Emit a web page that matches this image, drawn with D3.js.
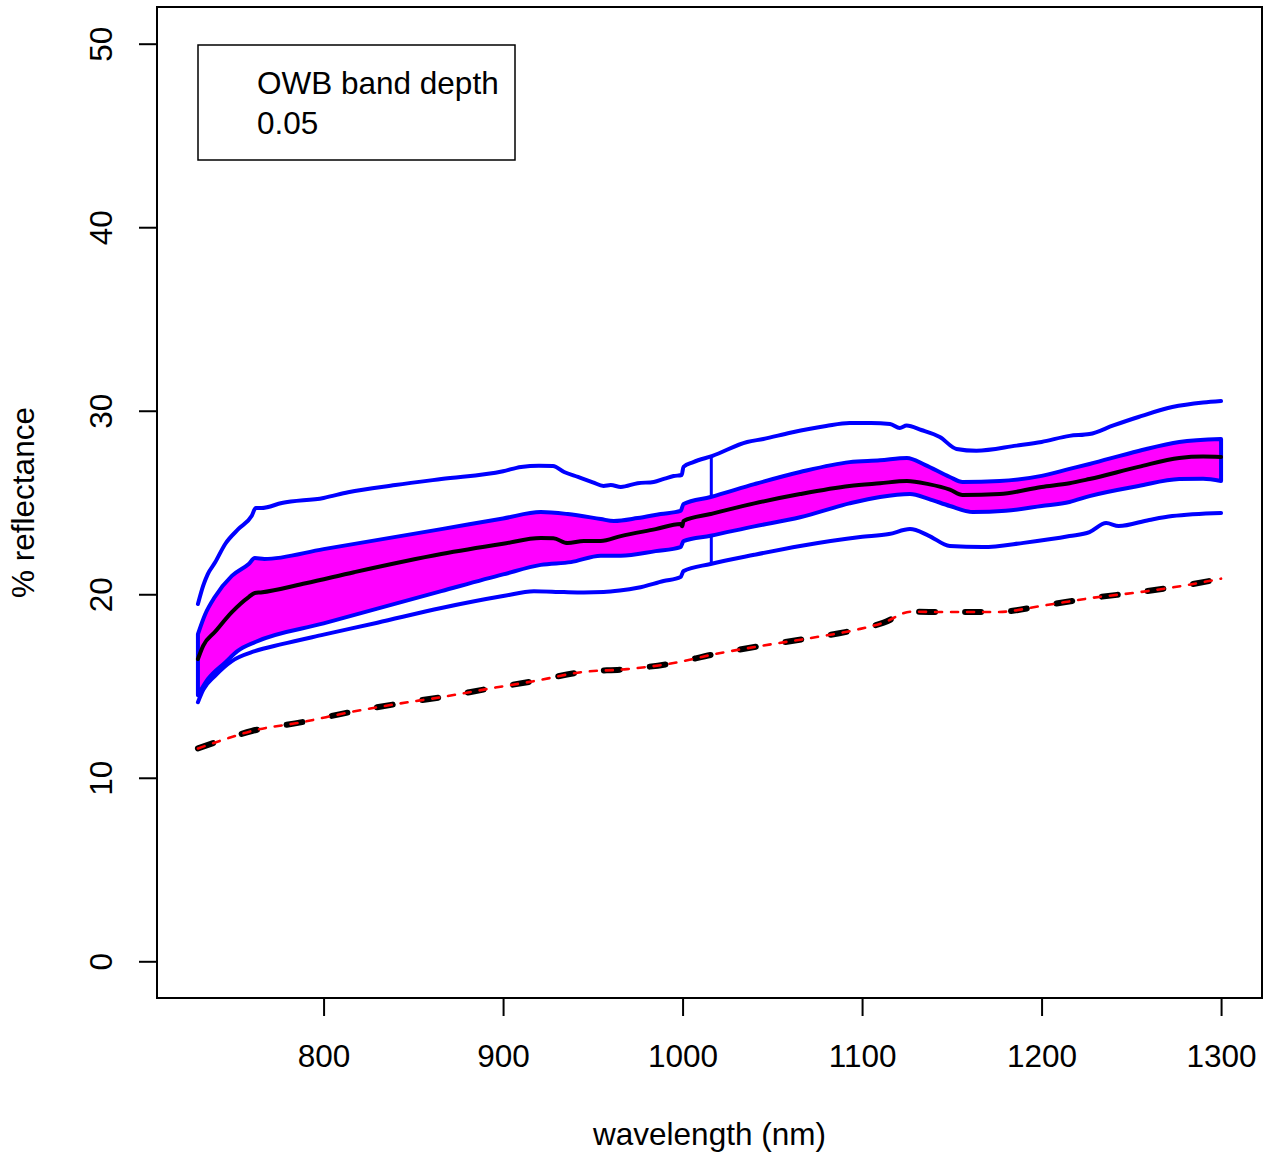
<!DOCTYPE html>
<html>
<head>
<meta charset="utf-8">
<script src="https://cdn.jsdelivr.net/npm/d3@7/dist/d3.min.js"></script>
<style>
  html, body { margin: 0; padding: 0; background: #fff; }
  svg { display: block; }
  text { font-family: "Liberation Sans", Arial, sans-serif; fill: #000; }
</style>
</head>
<body>
<script>
// ---------- data (wavelength nm, % reflectance) ----------
const xTicks = [800, 900, 1000, 1100, 1200, 1300];
const yTicks = [0, 10, 20, 30, 40, 50];
const legendLines = ["OWB band depth", "0.05"];
const xLabel = "wavelength (nm)";
const yLabel = "% reflectance";

const outerUpper = [
  [730, 19.47], [732.9, 20.46], [735.5, 21.1], [739.6, 21.74], [745.2, 22.74], [752.6, 23.56],
  [760, 24.28], [762.2, 24.7], [765.5, 24.7], [776.7, 24.97], [800, 25.25], [813.7, 25.56],
  [840, 25.95], [865.6, 26.28], [900, 26.7], [910, 26.94], [920, 27.0], [927.8, 26.99],
  [934, 26.66], [941.7, 26.39], [950, 26.1], [956, 25.9], [960, 25.95], [965.6, 25.85],
  [975, 26.05], [983.9, 26.12], [990, 26.3], [995, 26.44], [999.5, 26.5], [1000.5, 26.94],
  [1006, 27.2], [1016.7, 27.54], [1036, 28.3], [1045, 28.46], [1060, 28.8], [1080, 29.17],
  [1093, 29.33], [1105, 29.33], [1115.6, 29.28], [1121, 29.06], [1124.8, 29.19], [1133, 28.95],
  [1143.3, 28.57], [1152.6, 27.92], [1163.7, 27.82], [1186, 28.1], [1200, 28.3], [1215.6, 28.63],
  [1226.7, 28.73], [1240, 29.2], [1254, 29.66], [1272.8, 30.2], [1290, 30.45], [1300, 30.53]
];

const outerLower = [
  [730, 14.12], [733, 14.8], [739.4, 15.54], [748.9, 16.36], [761.7, 16.9], [776.7, 17.28],
  [800, 17.8], [830, 18.45], [865.6, 19.25], [900, 19.9], [917.2, 20.17], [933.9, 20.12],
  [945, 20.1], [956, 20.12], [965, 20.2], [975, 20.35], [989.4, 20.72], [998.9, 20.94],
  [1000.5, 21.26], [1015.6, 21.65], [1040, 22.15], [1065.5, 22.63], [1099, 23.12],
  [1115, 23.28], [1126.7, 23.55], [1137, 23.2], [1148.9, 22.63], [1167.2, 22.57],
  [1190, 22.8], [1215.6, 23.17], [1226.7, 23.39], [1236, 23.88], [1243, 23.72],
  [1260, 24.05], [1272.8, 24.26], [1300, 24.43]
];

const bandUpper = [
  [730, 17.83], [734, 18.9], [739.4, 19.85], [748.9, 21.0], [758.3, 21.65], [761.7, 21.97],
  [767, 21.92], [800, 22.46], [865.6, 23.55], [900, 24.13], [921, 24.48], [936, 24.37],
  [954.4, 24.1], [961.7, 23.99], [975, 24.15], [987.8, 24.37], [998.9, 24.54], [1000.5, 24.92],
  [1015.6, 25.3], [1040, 26.0], [1065.5, 26.66], [1093, 27.2], [1110, 27.3], [1125, 27.43],
  [1135, 27.05], [1148.9, 26.39], [1156, 26.12], [1176.7, 26.17], [1200, 26.45], [1215.6, 26.83],
  [1226.7, 27.1], [1254, 27.81], [1276.7, 28.3], [1300, 28.46]
];

const bandLower = [
  [730, 14.5], [735.6, 15.38], [745.4, 16.3], [752, 16.9], [762, 17.4], [800, 18.41],
  [865.6, 20.17], [900, 21.08], [921, 21.6], [937.8, 21.75], [954.4, 22.1], [965.6, 22.1],
  [985, 22.35], [998.9, 22.57], [1000.5, 22.9], [1015.6, 23.19], [1040, 23.7], [1065.5, 24.2],
  [1093, 24.95], [1110, 25.3], [1126.7, 25.46], [1137, 25.2], [1148.9, 24.81], [1161.7, 24.48],
  [1180, 24.55], [1200, 24.81], [1215.6, 25.03], [1226.7, 25.35], [1254, 25.9],
  [1276.7, 26.28], [1290, 26.3], [1300, 26.17]
];

const meanLine = [
  [730, 16.47], [732.9, 17.19], [739.4, 17.94], [748.9, 19.03], [758.3, 19.85], [761.7, 20.07],
  [765, 20.1], [790, 20.6], [817, 21.2], [865.6, 22.19], [900, 22.75], [921, 23.06],
  [928, 23.05], [936, 22.79], [945, 22.9], [954.4, 22.9], [965.6, 23.17], [985, 23.55],
  [998.9, 23.83], [999.8, 23.7], [1000.5, 23.99], [1015.6, 24.37], [1040, 24.95],
  [1065.5, 25.46], [1093, 25.9], [1110, 26.05], [1125, 26.17], [1137, 26.0], [1148.9, 25.7],
  [1156, 25.41], [1176.7, 25.46], [1200, 25.85], [1215.6, 26.05], [1226.7, 26.28],
  [1254, 26.94], [1276.7, 27.43], [1290, 27.5], [1300, 27.48]
];

const dashedLine = [
  [730, 11.6], [745, 12.1], [760, 12.55], [788, 13.03], [815, 13.58], [840, 14.01],
  [866, 14.4], [893, 14.87], [918, 15.28], [944, 15.76], [969, 15.92], [995, 16.25],
  [1018, 16.74], [1044, 17.19], [1071, 17.61], [1097, 18.07], [1112, 18.45], [1127, 19.05],
  [1148, 19.03], [1175, 19.03], [1202, 19.4], [1228, 19.8], [1255, 20.12], [1281, 20.5],
  [1300, 20.85]
];

const markerWl = 1016;
const markerRange = [21.65, 27.52];

// ---------- layout ----------
const W = 1263, H = 1153;
const plot = { left: 157, right: 1262, top: 7, bottom: 998 };
const FS = 31.5;

const svg = d3.select("body").append("svg").attr("width", W).attr("height", H);

const x = d3.scaleLinear().domain([707.2, 1322.8]).range([plot.left, plot.right]);
const y = d3.scaleLinear().domain([-2, 52]).range([plot.bottom, plot.top]);

const line = d3.line().x(d => x(d[0])).y(d => y(d[1])).curve(d3.curveMonotoneX);

// marker vertical line (drawn under polygon)
svg.append("line")
  .attr("x1", x(markerWl)).attr("x2", x(markerWl))
  .attr("y1", y(markerRange[0])).attr("y2", y(markerRange[1]))
  .attr("stroke", "#0000ff").attr("stroke-width", 3);

// outer lines
[outerUpper, outerLower].forEach(s => {
  svg.append("path").attr("d", line(s))
    .attr("fill", "none").attr("stroke", "#0000ff").attr("stroke-width", 4)
    .attr("stroke-linejoin", "round").attr("stroke-linecap", "round");
});

// band polygon
const polyD = line(bandUpper) + line(bandLower.slice().reverse()).replace(/^M/, "L") + "Z";
svg.append("path").attr("d", polyD)
  .attr("fill", "#ff00ff").attr("stroke", "#0000ff").attr("stroke-width", 4)
  .attr("stroke-linejoin", "round");

// mean
svg.append("path").attr("d", line(meanLine))
  .attr("fill", "none").attr("stroke", "#000").attr("stroke-width", 4)
  .attr("stroke-linejoin", "round").attr("stroke-linecap", "round");

// dashed black + red
svg.append("path").attr("d", line(dashedLine))
  .attr("fill", "none").attr("stroke", "#000").attr("stroke-width", 6)
  .attr("stroke-dasharray", "16 30").attr("stroke-linecap", "round");
svg.append("path").attr("d", line(dashedLine))
  .attr("fill", "none").attr("stroke", "#ff0000").attr("stroke-width", 2.6)
  .attr("stroke-dasharray", "7 9").attr("stroke-linecap", "round");

// frame
svg.append("rect")
  .attr("x", plot.left).attr("y", plot.top)
  .attr("width", plot.right - plot.left).attr("height", plot.bottom - plot.top)
  .attr("fill", "none").attr("stroke", "#000").attr("stroke-width", 2);

// x axis
const xAxis = d3.axisBottom(x).tickValues(xTicks).tickSize(18).tickPadding(29).tickFormat(d3.format("d"));
const gx = svg.append("g").attr("transform", `translate(0,${plot.bottom})`).call(xAxis);
gx.select(".domain").attr("d", `M${x(xTicks[0])},0H${x(xTicks[xTicks.length-1])}`).attr("stroke-width", 2);
gx.selectAll(".tick line").attr("stroke-width", 2);
gx.selectAll(".tick text").attr("font-size", FS).attr("font-family", "Liberation Sans, Arial, sans-serif");

// y axis
const yAxis = d3.axisLeft(y).tickValues(yTicks).tickSize(18).tickFormat(d3.format("d"));
const gy = svg.append("g").attr("transform", `translate(${plot.left},0)`).call(yAxis);
gy.select(".domain").attr("d", `M0,${y(yTicks[0])}V${y(yTicks[yTicks.length-1])}`).attr("stroke-width", 2);
gy.selectAll(".tick line").attr("stroke-width", 2);
gy.selectAll(".tick text")
  .attr("font-size", FS).attr("font-family", "Liberation Sans, Arial, sans-serif")
  .attr("x", null).attr("dy", null)
  .attr("text-anchor", "middle")
  .attr("transform", "translate(-45,0) rotate(-90)");

// axis titles
svg.append("text").attr("x", (plot.left + plot.right) / 2).attr("y", 1145)
  .attr("text-anchor", "middle").attr("font-size", FS).text(xLabel);
svg.append("text").attr("transform", `translate(34,${(plot.top + plot.bottom) / 2}) rotate(-90)`)
  .attr("text-anchor", "middle").attr("font-size", FS).text(yLabel);

// legend
svg.append("rect").attr("x", 198).attr("y", 45).attr("width", 317).attr("height", 115)
  .attr("fill", "#fff").attr("stroke", "#000").attr("stroke-width", 1.5);
legendLines.forEach((t, i) => {
  svg.append("text").attr("x", 257).attr("y", 94 + i * 39.5).attr("font-size", FS).text(t);
});
</script>
</body>
</html>
